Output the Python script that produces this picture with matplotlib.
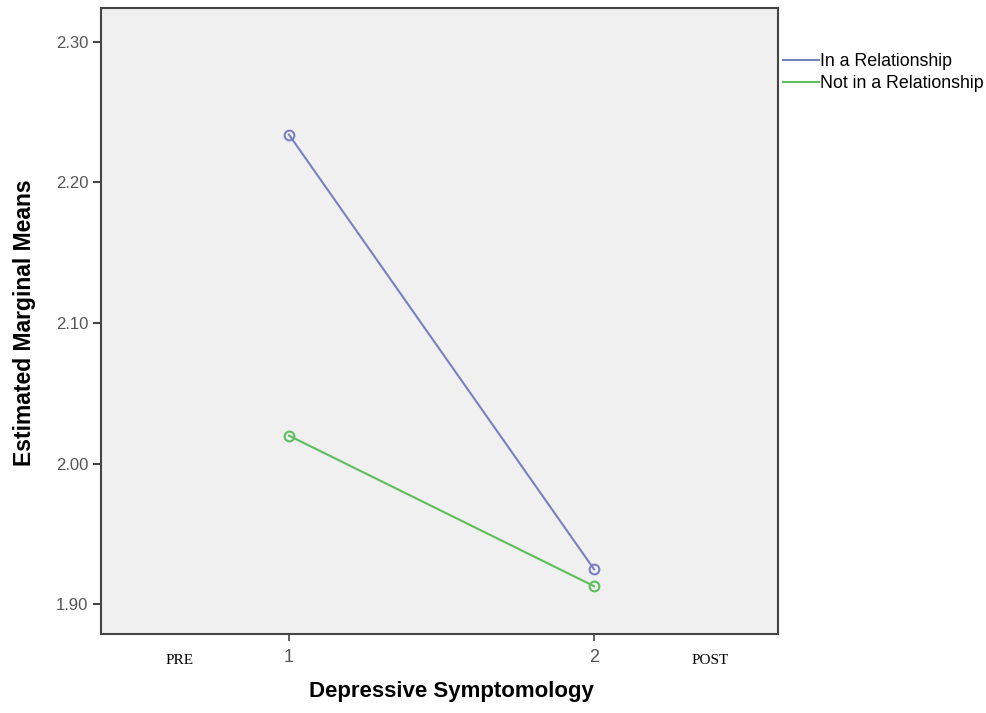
import matplotlib
matplotlib.use("Agg")
import matplotlib.pyplot as plt

categories = [1, 2]
series_names = ["In a Relationship", "Not in a Relationship"]
in_rel = [2.234, 1.925]
not_rel = [2.020, 1.913]
yticks = [1.90, 2.00, 2.10, 2.20, 2.30]
colors = ["#7880c0", "#5cbf5c"]

plt.rcParams['font.family'] = ['Liberation Sans', 'DejaVu Sans']

fig = plt.figure(figsize=(9.87, 7.13), dpi=100)
ax = fig.add_axes([0.1023, 0.1108, 0.686, 0.878])
ax.set_facecolor("#f0f0f0")

for vals, name, c in zip([in_rel, not_rel], series_names, colors):
    ax.plot(categories, vals, color=c, lw=1.5, marker='o', ms=7,
            mfc='none', mec=c, mew=1.5, label=name)

ax.set_xlim(0.384, 2.603)
ax.set_ylim(1.879, 2.324)
ax.set_yticks(yticks)
ax.set_yticklabels([f"{v:.2f}" for v in yticks], color="#555555", fontsize=12)
ax.set_xticks(categories)
ax.set_xticklabels([str(c) for c in categories], color="#555555", fontsize=13)
ax.tick_params(axis='y', length=6, width=1.5, color="#444444", pad=3)
ax.tick_params(axis='x', length=5, width=1.2, color="#444444", pad=6)
for s in ax.spines.values():
    s.set_color("#444444")
    s.set_linewidth(1.5)

fig.text(25 / 987, 1 - 323 / 713, "Estimated Marginal Means",
         fontsize=16.5, fontweight='bold', rotation=90, ha='center', va='center')
fig.text(451 / 987, 1 - 692 / 713, "Depressive Symptomology", fontsize=16,
         fontweight='bold', ha='center', va='center')

fig.text(180 / 987, 1 - 660 / 713, "PRE", family="Liberation Serif", fontsize=11,
         ha='center', va='center')
fig.text(710 / 987, 1 - 660 / 713, "POST", family="Liberation Serif", fontsize=11,
         ha='center', va='center')

leg = fig.legend(loc='upper left', bbox_to_anchor=(783 / 987, 1 - 53 / 713),
                 frameon=False, fontsize=12.8, handlelength=2.0, handletextpad=0.1,
                 labelspacing=0.3, borderaxespad=0, borderpad=0)
for h in leg.legend_handles:
    h.set_marker('')

fig.savefig("out.png", dpi=100)
